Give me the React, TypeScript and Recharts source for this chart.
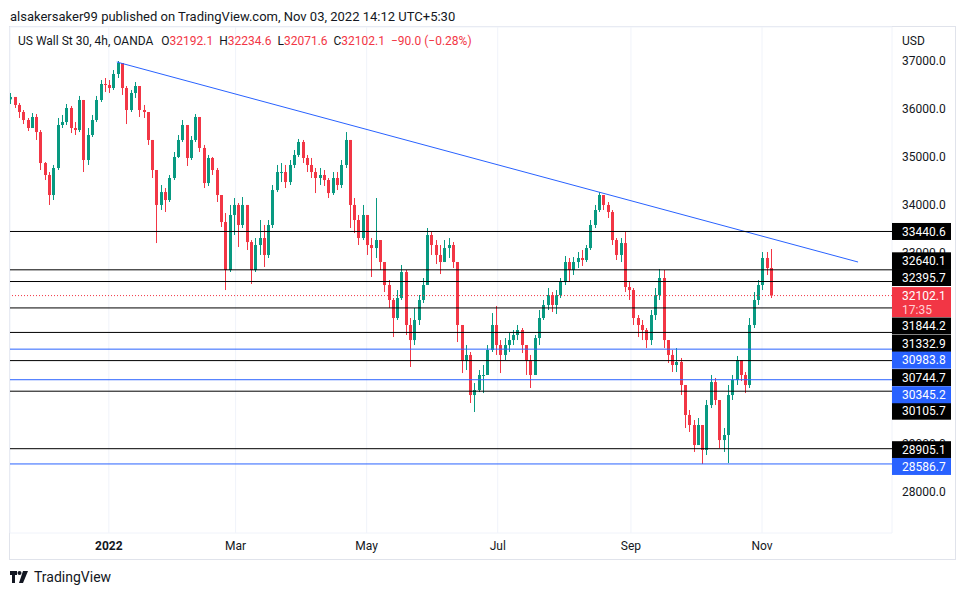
import React from 'react';
import { ComposedChart, Bar, XAxis, YAxis, CartesianGrid, ReferenceLine } from 'recharts';

// 2-day candles (day 0 = 1 Jan 2022)
const START_DAY = -46;
const STEP_DAYS = 2;
const FIRST_OPEN = 36200;

const closes = [
  36249, 36082, 35935, 35768, 35601, 35831, 35517, 34870, 34620, 34202,
  34766, 35664, 35726, 36019, 35601, 35559, 36186, 34933, 35455, 35768,
  36186, 36520, 36499, 36436, 36729, 36958, 36436, 35977, 36332, 36478,
  35977, 35935, 35351, 34724, 33994, 34264, 34098, 34557, 34996, 35351,
  35664, 34975, 35351, 35831, 35184, 34452, 34975, 34724, 34202, 33638,
  32636, 33785, 33994, 33576, 33994, 33220, 32636, 33158, 33304, 32950,
  33576, 34306, 34682, 34682, 34473, 34829, 35038, 35309, 34975, 34829,
  34682, 34557, 34620, 34515, 34243, 34557, 34411, 34829, 35351, 33994,
  33680, 33304, 33785, 33158, 33095, 33262, 32803, 32323, 32010, 31634,
  32051, 32594, 31488, 31174, 31592, 32010, 32323, 33367, 33158, 32950,
  32803, 33095, 33158, 32803, 31488, 30736, 30862, 30026, 30130, 30444,
  30444, 30966, 31488, 31070, 30862, 31070, 31174, 31279, 31383, 31070,
  30736, 30444, 31216, 31634, 31906, 32114, 31906, 32114, 32385, 32803,
  32636, 32803, 32887, 32845, 33095, 33576, 33889, 34202, 33994, 33847,
  33262, 32950, 33199, 32281, 32218, 31634, 31488, 31383, 31174, 31696,
  32114, 32469, 31174, 30862, 30653, 30715, 30235, 29609, 29400, 28982,
  29400, 28878, 29817, 30297, 29922, 29086, 29191, 30026, 30339, 30757,
  30444, 30235, 31488, 32010, 32323, 32887, 32678, 32102.1,
];

const highs = [
  36332, 36228, 36123, 35977, 35810, 35914, 35893, 35559, 34891, 34682,
  34829, 35810, 35873, 36102, 36061, 35726, 36270, 36186, 35601, 35873,
  36270, 36603, 36645, 36603, 36812, 37000, 36916, 36478, 36395, 36561,
  36478, 36082, 35935, 35351, 34724, 34411, 34348, 34620, 35100, 35455,
  35768, 35664, 35434, 35893, 35810, 35247, 35038, 34996, 34766, 34202,
  33826, 33994, 34139, 34035, 34160, 33994, 33262, 33304, 33680, 33576,
  33680, 34411, 34829, 34870, 34829, 34933, 35142, 35372, 35351, 35038,
  34975, 34766, 34766, 34724, 34557, 34682, 34682, 34933, 35517, 35351,
  34139, 33785, 33994, 33785, 33304, 34139, 33262, 32803, 32427, 32051,
  32218, 32741, 32636, 31634, 31843, 32114, 32469, 33513, 33429, 33262,
  33158, 33262, 33304, 33220, 32803, 31488, 31070, 30924, 30276, 30548,
  30653, 31070, 31738, 31885, 31174, 31216, 31320, 31383, 31488, 31425,
  31070, 30862, 31279, 31801, 32010, 32260, 32176, 32218, 32469, 32928,
  32887, 32907, 33012, 33054, 33158, 33680, 33994, 34264, 34202, 34056,
  33889, 33304, 33304, 33429, 32385, 32260, 31696, 31592, 31425, 31801,
  32260, 32657, 32636, 31174, 30966, 31007, 30799, 30235, 29713, 29504,
  29546, 29400, 29922, 30444, 30381, 29922, 29337, 30235, 30444, 30841,
  30757, 30506, 31634, 32176, 32427, 33012, 33012, 33075,
];

const lows = [
  36102, 36019, 35810, 35684, 35538, 35601, 35351, 34724, 34515, 33994,
  34098, 34724, 35601, 35664, 35496, 35455, 35517, 34682, 34829, 35413,
  35726, 36144, 36353, 36332, 36395, 36645, 36291, 35684, 35935, 36228,
  35831, 35810, 35247, 34557, 33199, 33889, 33847, 34056, 34515, 34975,
  35309, 34808, 34933, 35309, 35100, 34348, 34390, 34620, 34056, 33534,
  32218, 32594, 33367, 33116, 33513, 33054, 32344, 32594, 32950, 32699,
  32887, 33513, 34264, 34473, 34348, 34411, 34766, 34996, 34870, 34682,
  34557, 34243, 34411, 34390, 34139, 34202, 34306, 34348, 34766, 33513,
  33408, 33158, 33262, 32950, 32490, 32887, 32636, 32176, 31843, 31237,
  31592, 32010, 31279, 30611, 31070, 31488, 31947, 32323, 32950, 32761,
  32552, 32803, 32887, 32678, 31132, 30485, 30548, 29859, 29671, 30088,
  30067, 30444, 30924, 30862, 30485, 30757, 30924, 31070, 31174, 30903,
  30444, 30172, 30506, 31070, 31592, 31801, 31759, 31717, 32051, 32323,
  32385, 32532, 32678, 32720, 32803, 33054, 33513, 33847, 33889, 33722,
  33158, 32845, 32803, 32176, 32010, 31488, 31237, 31174, 31007, 31070,
  31592, 32010, 31007, 30694, 30506, 30506, 30026, 29337, 29254, 28837,
  29086, 28585, 28773, 29754, 29817, 28920, 28837, 28606, 29922, 30235,
  30318, 30067, 30172, 31425, 31906, 32218, 32532, 32051,
];

const monthTicks = [0, 59, 120, 181, 243, 304];
const monthLabels = ['2022', 'Mar', 'May', 'Jul', 'Sep', 'Nov'];
const priceTicks = [28000, 29000, 30000, 31000, 32000, 33000, 34000, 35000, 36000, 37000];

const blackLevels = [33440.6, 32640.1, 32395.7, 31844.2, 31332.9, 30744.7, 30105.7, 28905.1];
const blueLevels = [30983.8, 30345.2, 28586.7];
const lastPrice = 32102.1;
const countdown = '17:35';
const trendStart = { day: 3.7, price: 36979 };
const trendEnd = { day: 348.7, price: 32803 };

// nudges of the price-axis tags so they do not overlap (px)
const tagShift: Record<string, number> = {
  '33440.6': 0, '32640.1': -9, '32395.7': -4, '31844.2': 18, '31332.9': 11,
  '30983.8': 11, '30744.7': 17, '30345.2': 15, '30105.7': 20, '28905.1': 1, '28586.7': 2.5,
};

const FONT = 'Roboto, "Open Sans", sans-serif';
const UP = '#089981';
const DOWN = '#f23645';
const BLUE = '#2962ff';

const candles = closes.map((c, i) => {
  const o = i === 0 ? FIRST_OPEN : closes[i - 1];
  return {
    day: START_DAY + STEP_DAYS * i,
    open: o,
    close: c,
    high: Math.max(highs[i], o, c),
    low: Math.min(lows[i], o, c),
  };
});

const Candle = (props: any) => {
  const { x, y, width, height, payload } = props;
  const { open, close, high, low } = payload;
  const h = Math.abs(height);
  const top = height < 0 ? y + height : y;
  const k = high === low ? 0 : h / (high - low);
  const yO = top + (high - open) * k;
  const yC = top + (high - close) * k;
  const color = close >= open ? UP : DOWN;
  const cx = Math.round(x + width / 2) + 0.5;
  const bTop = Math.min(yO, yC);
  const bH = Math.max(1, Math.abs(yC - yO));
  return (
    <g>
      <line x1={cx} x2={cx} y1={top} y2={top + h} stroke={color} strokeWidth={1} />
      <rect x={cx - 1.5} y={bTop} width={3} height={bH} fill={color} />
    </g>
  );
};

// price-axis tick text, drawn as reference-line labels so the level tags can cover it
const PriceTick = (props: any) => {
  const { viewBox, value } = props;
  return (
    <text x={viewBox.x + viewBox.width + 10} y={viewBox.y} dy="0.35em" fill="#131722"
      fontSize={12} fontFamily={FONT}>
      {value.toFixed(1)}
    </text>
  );
};

const LevelTag = (props: any) => {
  const { viewBox, value, bg } = props;
  const left = viewBox.x + viewBox.width;
  const yc = viewBox.y + (tagShift[value.toFixed(1)] || 0);
  return (
    <g>
      <rect x={left} y={yc - 8.5} width={59} height={17} fill={bg} />
      <text x={left + 10} y={yc} dy="0.35em" fill="#fff" fontSize={12} fontFamily={FONT}>
        {value.toFixed(1)}
      </text>
    </g>
  );
};

const LastTag = (props: any) => {
  const { viewBox } = props;
  const left = viewBox.x + viewBox.width;
  const yc = viewBox.y;
  return (
    <g>
      <rect x={left} y={yc - 8.5} width={59} height={30} fill={DOWN} />
      <text x={left + 10} y={yc} dy="0.35em" fill="#fff" fontSize={12} fontFamily={FONT}>
        {lastPrice.toFixed(1)}
      </text>
      <text x={left + 10} y={yc + 14.5} dy="0.35em" fill="#ffd0d4" fontSize={12} fontFamily={FONT}>
        {countdown}
      </text>
    </g>
  );
};

const TimeTick = (props: any) => {
  const { x, y, payload } = props;
  const idx = monthTicks.indexOf(payload.value);
  return (
    <text x={x} y={y} dy="0.71em" textAnchor="middle" fill="#131722" fontSize={12}
      fontFamily={FONT} fontWeight={idx === 0 ? 700 : 400}>
      {monthLabels[idx]}
    </text>
  );
};

const red = { color: DOWN };
const gap = { marginLeft: 6 };

export default function App() {
  return (
    <div style={{ position: 'absolute', left: 0, top: 0, width: 966, height: 595, background: '#fff', fontFamily: FONT, color: '#131722' }}>
      <div style={{ position: 'absolute', left: 10, top: 8, fontSize: 13, lineHeight: '18px' }}>
        alsakersaker99 published on TradingView.com, Nov 03, 2022 14:12 UTC+5:30
      </div>
      <div style={{ position: 'absolute', left: 9, top: 26, width: 945, height: 532, border: '1px solid #e0e3eb' }} />
      <ComposedChart width={966} height={560} data={candles}
        margin={{ top: 27, right: 0, bottom: 0, left: 10 }}
        style={{ position: 'absolute', left: 0, top: 0 }}>
        <CartesianGrid stroke="#f0f3fa" />
        <XAxis dataKey="day" type="number" domain={[-46, 364.5]} allowDataOverflow
          ticks={monthTicks} tick={<TimeTick />} tickLine={false} axisLine={false}
          tickSize={0} tickMargin={8} height={27} interval={0} />
        <YAxis orientation="right" type="number" domain={[27145, 37710]} allowDataOverflow
          ticks={priceTicks} width={74} tickLine={false} axisLine={false} tick={false} />
        <Bar dataKey={(d: any) => [d.low, d.high]} shape={<Candle />} barSize={3} isAnimationActive={false} />
        {priceTicks.map((t) => (
          <ReferenceLine key={'t' + t} y={t} stroke="none" label={<PriceTick value={t} />} />
        ))}
        <ReferenceLine segment={[{ x: trendStart.day, y: trendStart.price }, { x: trendEnd.day, y: trendEnd.price }]}
          stroke={BLUE} strokeWidth={1} />
        {blackLevels.map((v) => (
          <ReferenceLine key={'k' + v} y={v} stroke="#000" strokeWidth={1}
            label={<LevelTag value={v} bg="#000" />} />
        ))}
        {blueLevels.map((v) => (
          <ReferenceLine key={'b' + v} y={v} stroke={BLUE} strokeWidth={1}
            label={<LevelTag value={v} bg={BLUE} />} />
        ))}
        <ReferenceLine y={lastPrice} stroke={DOWN} strokeDasharray="1 2" label={<LastTag />} />
      </ComposedChart>
      <div style={{ position: 'absolute', left: 18, top: 33, fontSize: 12, lineHeight: '16px', whiteSpace: 'nowrap' }}>
        <span>US Wall St 30, 4h, OANDA</span>
        <span style={{ marginLeft: 8 }}>O<span style={red}>32192.1</span></span>
        <span style={gap}>H<span style={red}>32234.6</span></span>
        <span style={gap}>L<span style={red}>32071.6</span></span>
        <span style={gap}>C<span style={red}>32102.1</span></span>
        <span style={{ ...gap, ...red }}>−90.0 (−0.28%)</span>
      </div>
      <div style={{ position: 'absolute', left: 902, top: 33, fontSize: 12, lineHeight: '16px' }}>USD</div>
      <div style={{ position: 'absolute', left: 10, top: 569, display: 'flex', alignItems: 'center' }}>
        <svg width={20} height={12} viewBox="0 0 20 12">
          <path d="M0 0h7v4H5v8H2V4H0z" fill="#131722" />
          <circle cx={9.5} cy={2} r={2} fill="#131722" />
          <path d="M13 0h5l-5 12h-4z" fill="#131722" />
        </svg>
        <span style={{ marginLeft: 4, fontSize: 14, color: '#131722' }}>TradingView</span>
      </div>
    </div>
  );
}
